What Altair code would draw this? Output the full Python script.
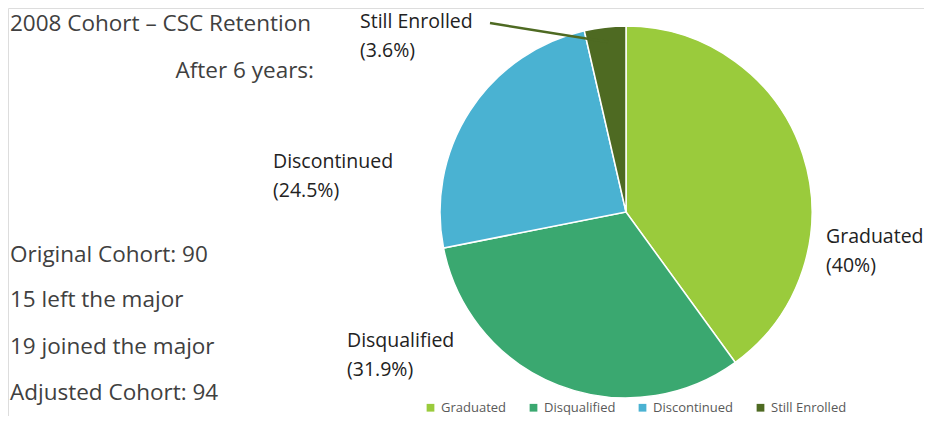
import altair as alt
import pandas as pd

categories = ["Graduated", "Disqualified", "Discontinued", "Still Enrolled"]
percents = [40.0, 31.9, 24.5, 3.6]
colors = ["#9acb3c", "#3aa870", "#4ab2d2", "#4e6a22"]

title_lines = ["2008 Cohort \u2013 CSC Retention"]
subtitle_lines = ["After 6 years:"]
notes = ["Original Cohort: 90", "15 left the major", "19 joined the major", "Adjusted Cohort: 94"]

df = pd.DataFrame({"category": categories, "pct": percents, "order": list(range(len(categories)))})

FONT = "Open Sans"
W, H = 916, 408
CX, CY, R = 618, 204, 186

pie = alt.Chart(df).mark_arc(stroke="white", strokeWidth=1.5, outerRadius=R).encode(
    theta=alt.Theta("pct:Q", stack=True),
    order=alt.Order("order:Q"),
    color=alt.Color(
        "category:N",
        scale=alt.Scale(domain=categories, range=colors),
        sort=categories,
        legend=alt.Legend(
            title=None, orient="none", direction="horizontal",
            legendX=416, legendY=393, symbolType="square", symbolSize=60,
            labelFont=FONT, labelFontSize=13, labelColor="#595959",
            columnPadding=20, symbolStrokeWidth=0, labelOffset=4,
        ),
    ),
    x=alt.value(CX), y=alt.value(CY),
)

# slice labels (two lines each)
label_pos = {
    "Graduated": (818, 229),
    "Disqualified": (339, 333),
    "Discontinued": (265, 154),
    "Still Enrolled": (352, 14),
}
label_df = pd.DataFrame({
    "category": categories,
    "line1": categories,
    "line2": [f"({p:g}%)" for p in percents],
    "lx": [label_pos[c][0] for c in categories],
    "ly": [label_pos[c][1] for c in categories],
})

xs = alt.Scale(domain=[0, W], range=[0, W])
ys = alt.Scale(domain=[0, H], range=[0, H])

labels1 = alt.Chart(label_df).mark_text(
    align="left", baseline="middle", font=FONT, fontSize=19.5, color="#222222"
).encode(
    x=alt.X("lx:Q", scale=xs, axis=None),
    y=alt.Y("ly:Q", scale=ys, axis=None),
    text="line1:N",
)
labels2 = alt.Chart(label_df).mark_text(
    align="left", baseline="middle", font=FONT, fontSize=19.5, color="#222222", dy=29
).encode(
    x=alt.X("lx:Q", scale=xs, axis=None),
    y=alt.Y("ly:Q", scale=ys, axis=None),
    text="line2:N",
)

leader = alt.Chart(pd.DataFrame({"k": [0]})).mark_rule(color="#4e6a22", strokeWidth=2.5).encode(
    x=alt.value(482), y=alt.value(15), x2=alt.value(600), y2=alt.value(34)
)

title = alt.Chart(pd.DataFrame({"t": title_lines})).mark_text(
    align="left", baseline="middle", font=FONT, fontSize=22.5, color="#404040"
).encode(x=alt.value(2), y=alt.value(16), text="t:N")
subtitle = alt.Chart(pd.DataFrame({"t": subtitle_lines})).mark_text(
    align="right", baseline="middle", font=FONT, fontSize=22.5, color="#404040"
).encode(x=alt.value(306), y=alt.value(63), text="t:N")

notes_y = [247, 292, 339, 385]
notes_df = pd.DataFrame({"t": notes, "ny": notes_y})
notes_layer = alt.Chart(notes_df).mark_text(
    align="left", baseline="middle", font=FONT, fontSize=22.5, color="#404040"
).encode(
    x=alt.value(2),
    y=alt.Y("ny:Q", scale=ys, axis=None),
    text="t:N",
)

chart = alt.layer(pie, leader, labels1, labels2, title, subtitle, notes_layer).properties(
    width=W, height=H,
    autosize=alt.AutoSizeParams(type="none"),
    padding=0,
).configure_view(stroke=None).configure(background="white")

chart.save("out.html", embed_options={"renderer": "svg", "actions": False})
